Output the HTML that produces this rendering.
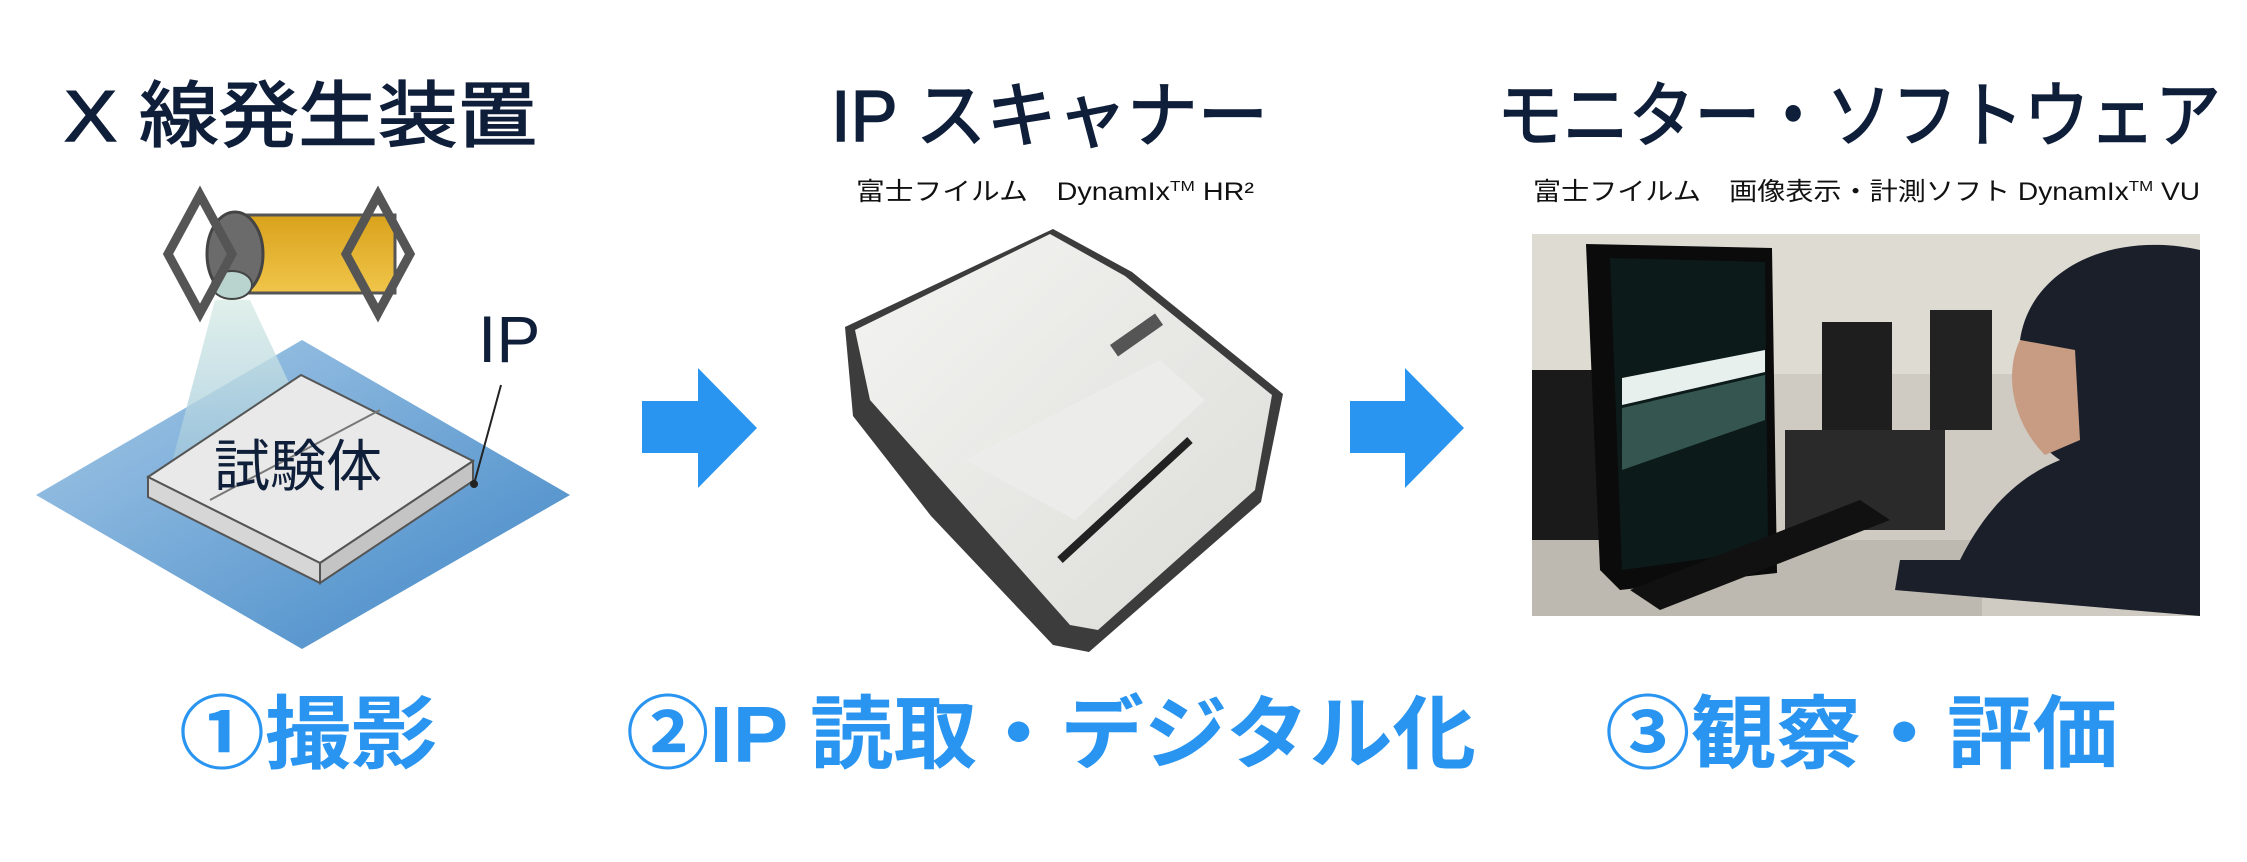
<!DOCTYPE html>
<html><head><meta charset="utf-8"><style>
html,body{margin:0;padding:0;background:#fff;}
svg{display:block;}
.t{font-family:"Liberation Sans","Noto Sans CJK JP",sans-serif;}
</style></head><body>
<svg width="2247" height="862" viewBox="0 0 2247 862" xmlns="http://www.w3.org/2000/svg">
<defs>
<linearGradient id="ip" x1="0" y1="0" x2="1" y2="1"><stop offset="0" stop-color="#a9cbe8"/><stop offset="1" stop-color="#3f86c6"/></linearGradient>
<linearGradient id="beam" x1="0" y1="0" x2="0" y2="1"><stop offset="0" stop-color="#d8ece6"/><stop offset="1" stop-color="#9fc6dc"/></linearGradient>
<linearGradient id="gold" x1="0" y1="0" x2="0" y2="1"><stop offset="0" stop-color="#d9a21c"/><stop offset="1" stop-color="#f0c54a"/></linearGradient>
<linearGradient id="scan" x1="0" y1="0" x2="1" y2="1"><stop offset="0" stop-color="#f4f4f2"/><stop offset="1" stop-color="#dcdcd8"/></linearGradient>
</defs>
<g class="t" fill="#0f1f3a" font-size="72" stroke="#0f1f3a" stroke-width="1.5">
<text x="64" y="141" textLength="473" lengthAdjust="spacingAndGlyphs">X 線発生装置</text>
<text x="831" y="141" textLength="437" lengthAdjust="spacingAndGlyphs">IP スキャナー</text>
<text x="1497" y="141" textLength="724" lengthAdjust="spacingAndGlyphs">モニター・ソフトウェア</text>
</g>
<g class="t" fill="#111" font-size="25">
<text x="856" y="200" textLength="398" lengthAdjust="spacingAndGlyphs">富士フイルム　DynamIx<tspan font-size="15" dy="-9">TM</tspan><tspan dy="9"> HR²</tspan></text>
<text x="1533" y="200" textLength="667" lengthAdjust="spacingAndGlyphs">富士フイルム　画像表示・計測ソフト DynamIx<tspan font-size="15" dy="-9">TM</tspan><tspan dy="9"> VU</tspan></text>
</g>
<!-- left diagram -->
<polygon points="302,340 570,495 302,649 36,495" fill="url(#ip)"/>
<polygon points="215,300 250,300 330,470 170,470" fill="url(#beam)" opacity="0.8"/>
<polygon points="148,477 301,375 473,461 320,563" fill="#e9e9e9" stroke="#555" stroke-width="2"/>
<polygon points="148,477 320,563 320,583 148,497" fill="#d6d6d6" stroke="#555" stroke-width="2"/>
<polygon points="320,563 473,461 473,481 320,583" fill="#c4c4c4" stroke="#555" stroke-width="2"/>
<line x1="210" y1="500" x2="380" y2="410" stroke="#777" stroke-width="2"/>
<text class="t" x="298" y="486" font-size="56" fill="#0f1f3a" text-anchor="middle">試験体</text>
<text class="t" x="478" y="362" font-size="66" fill="#0f1f3a">IP</text>
<line x1="501" y1="385" x2="474" y2="484" stroke="#222" stroke-width="2"/>
<circle cx="474" cy="484" r="4" fill="#222"/>
<!-- tube -->
<rect x="235" y="215" width="160" height="78" fill="url(#gold)" stroke="#555" stroke-width="3"/>
<ellipse cx="235" cy="254" rx="28" ry="42" fill="#6b6b6b" stroke="#444" stroke-width="3"/>
<ellipse cx="232" cy="285" rx="20" ry="14" fill="#b9d3cf" stroke="#444" stroke-width="2"/>
<polygon points="200,195 232,254 200,313 168,254" fill="none" stroke="#555" stroke-width="9"/>
<polygon points="378,195 410,254 378,313 346,254" fill="none" stroke="#555" stroke-width="9"/>
<!-- arrows -->
<polygon points="642,401 698,401 698,368 757,428 698,488 698,453 642,453" fill="#2a95f0"/>
<polygon points="1350,401 1405,401 1405,368 1464,428 1405,488 1405,453 1350,453" fill="#2a95f0"/>
<!-- scanner -->
<polygon points="845,327 1053,229 1132,272 1283,394 1261,502 1089,652 1053,645 931,516 853,416" fill="#3c3c3c"/>
<polygon points="855,330 1050,234 1125,276 1272,395 1255,490 1098,630 1070,625 950,490 870,400" fill="url(#scan)"/>
<polygon points="965,460 1160,360 1205,400 1075,520" fill="#ececea"/>
<line x1="1060" y1="560" x2="1190" y2="440" stroke="#222" stroke-width="8"/>
<rect x="1110" y="345" width="55" height="14" fill="#555" transform="rotate(-35 1110 345)"/>
<!-- photo -->
<rect x="1532" y="234" width="668" height="382" fill="#cfcbc2"/>
<rect x="1532" y="234" width="668" height="140" fill="#dedbd3"/>
<rect x="1532" y="370" width="80" height="200" fill="#1a1a1a"/>
<rect x="1532" y="540" width="450" height="76" fill="#bdb9b0"/>
<rect x="1822" y="322" width="70" height="110" fill="#1e1e1e"/>
<rect x="1930" y="310" width="62" height="120" fill="#222"/>
<rect x="1785" y="430" width="160" height="100" fill="#2a2a2a"/>
<polygon points="1586,244 1772,248 1777,573 1620,590 1600,570" fill="#0b0b0b"/>
<polygon points="1610,258 1765,262 1768,550 1622,570" fill="#0d1a1a"/>
<polygon points="1622,378 1765,350 1765,372 1622,405" fill="#e8f0ee"/>
<polygon points="1622,408 1765,375 1765,420 1622,470" fill="#355650"/>
<polygon points="1630,590 1860,500 1890,520 1660,610" fill="#111"/>
<path d="M2200,250 C2110,230 2030,270 2020,340 C2010,400 2030,440 2060,460 C2010,480 1980,520 1960,560 L1900,560 L1895,590 L2200,616 Z" fill="#1b1f2a"/>
<path d="M2020,340 C2005,370 2010,420 2045,455 L2080,440 L2075,350 Z" fill="#c79c82"/>
<!-- bottom labels -->
<g class="t" fill="#2a95f0" font-weight="bold" font-size="80">
<text x="179" y="762" textLength="258" lengthAdjust="spacingAndGlyphs">①撮影</text>
<text x="626" y="762" textLength="850" lengthAdjust="spacingAndGlyphs">②IP 読取・デジタル化</text>
<text x="1605" y="762" textLength="513" lengthAdjust="spacingAndGlyphs">③観察・評価</text>
</g>
</svg>
</body></html>
